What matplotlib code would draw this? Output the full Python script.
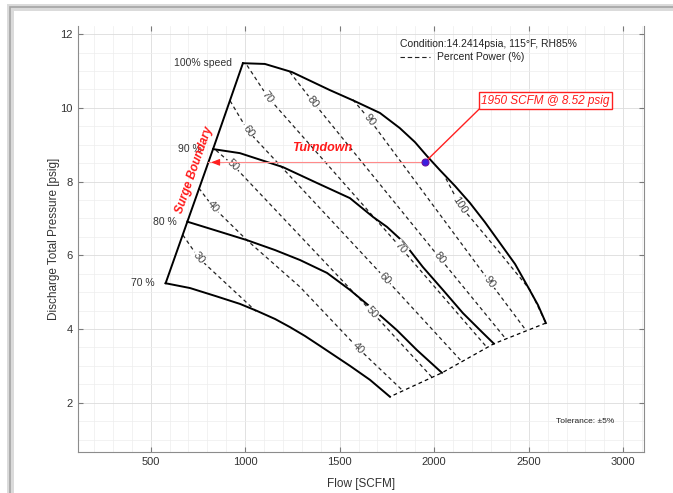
import matplotlib.pyplot as plt
from matplotlib.patches import Rectangle
from matplotlib.ticker import MultipleLocator
import numpy as np

plt.rcParams['font.family'] = ['Liberation Sans', 'DejaVu Sans']

# speed lines: flow [SCFM] vs discharge pressure [psig]
flow_100 = [988, 1104, 1247, 1448, 1580, 1713, 1818, 1898, 1962, 2030, 2110, 2189, 2268, 2348, 2428, 2496, 2549, 2591]
press_100 = [11.21, 11.19, 10.97, 10.48, 10.18, 9.86, 9.45, 9.07, 8.69, 8.31, 7.88, 7.42, 6.90, 6.33, 5.76, 5.14, 4.65, 4.16]
flow_90 = [830, 972, 1200, 1380, 1554, 1676, 1750, 1835, 1940, 2046, 2152, 2258, 2316]
press_90 = [8.88, 8.77, 8.39, 7.96, 7.55, 7.04, 6.77, 6.37, 5.68, 5.06, 4.43, 3.89, 3.60]
flow_80 = [694, 852, 1009, 1158, 1290, 1433, 1554, 1676, 1802, 1908, 2041]
press_80 = [6.91, 6.66, 6.41, 6.14, 5.87, 5.52, 5.06, 4.54, 3.97, 3.43, 2.81]
flow_70 = [579, 708, 845, 972, 1062, 1158, 1237, 1316, 1396, 1475, 1554, 1660, 1766]
press_70 = [5.24, 5.11, 4.89, 4.68, 4.49, 4.27, 4.05, 3.81, 3.54, 3.27, 3.00, 2.62, 2.16]
speed_names = ['100% speed', '90 %', '80 %', '70 %']

# percent power lines
power_levels = [30, 40, 50, 60, 70, 80, 90, 100]
power_flow = [
    [670, 755, 1057],
    [755, 830, 1009, 1290, 1597, 1835],
    [845, 935, 1671, 1988],
    [920, 1015, 1740, 2147],
    [1010, 1120, 1824, 2279],
    [1236, 1359, 2030, 2379],
    [1570, 1660, 2295, 2486],
    [2062, 2136, 2348, 2507, 2591],
]
power_press = [
    [6.55, 5.92, 4.48],
    [7.82, 7.31, 6.41, 5.14, 3.48, 2.32],
    [8.85, 8.45, 4.46, 2.69],
    [10.19, 9.37, 5.38, 3.11],
    [11.15, 10.29, 6.20, 3.50],
    [10.97, 10.16, 5.92, 3.73],
    [10.22, 9.67, 5.27, 3.96],
    [8.08, 7.36, 6.06, 5.06, 4.16],
]
power_label_flow = [[755], [830, 1597], [935, 1671], [1015, 1740], [1120, 1824],
                    [1359, 2030], [1660, 2295], [2136]]

# operating point
op_flow = 1950
op_press = 8.52

fig = plt.figure(figsize=(6.73, 4.93), dpi=100)
ax = fig.add_axes([0.1155, 0.0838, 0.8414, 0.8635])
ax.set_xlim(114, 3110)
ax.set_ylim(0.67, 12.22)

# window frame
fig.patches.append(Rectangle((10 / 673, -0.05), 1.2, 486 / 493 + 0.05, transform=fig.transFigure,
                             fill=False, edgecolor='#dadada', lw=5, zorder=0))
fig.patches.append(Rectangle((10 / 673, -0.05), 1.2, 486 / 493 + 0.05, transform=fig.transFigure,
                             fill=False, edgecolor='#a4a4a4', lw=1.2, zorder=0))

ax.xaxis.set_major_locator(MultipleLocator(500))
ax.xaxis.set_minor_locator(MultipleLocator(100))
ax.yaxis.set_major_locator(MultipleLocator(2))
ax.yaxis.set_minor_locator(MultipleLocator(0.5))
ax.grid(which='major', color='#dcdcdc', lw=0.6)
ax.grid(which='minor', color='#ededed', lw=0.5)
ax.set_axisbelow(True)
ax.tick_params(which='major', direction='in', length=3.5, color='#7a7a7a', width=0.8,
               labelsize=8, labelcolor='#333333', top=True, right=True)
ax.tick_params(which='minor', length=0)
for s in ['left', 'bottom', 'right']:
    ax.spines[s].set_color('#8c8c8c')
    ax.spines[s].set_linewidth(0.8)
ax.spines['top'].set_visible(False)

ax.set_ylabel('Discharge Total Pressure [psig]', fontsize=8.5, color='#333333')
ax.yaxis.set_label_coords(-0.031, 0.5)
ax.set_xlabel('Flow [SCFM]', fontsize=8.5, color='#333333')
ax.xaxis.set_label_coords(0.5, -0.061)

# speed lines, surge and choke boundaries
speed_flow = [flow_100, flow_90, flow_80, flow_70]
speed_press = [press_100, press_90, press_80, press_70]
for fl, pr in zip(speed_flow, speed_press):
    ax.plot(fl, pr, color='black', lw=1.4, zorder=3, solid_joinstyle='round')
surge_x = [fl[0] for fl in speed_flow]
surge_y = [pr[0] for pr in speed_press]
ax.plot(surge_x, surge_y, color='black', lw=1.4, zorder=3)
choke_x = [fl[-1] for fl in speed_flow]
choke_y = [pr[-1] for pr in speed_press]
ax.plot(choke_x, choke_y, color='black', lw=0.9, ls=(0, (3, 2.5)), zorder=3)

for name, fl, pr in zip(speed_names, speed_flow, speed_press):
    ax.text(fl[0] - 58, pr[0], name, ha='right', va='center', fontsize=7.5, color='#333333')

# percent power lines with inline labels
for lvl, fl, pr, lab in zip(power_levels, power_flow, power_press, power_label_flow):
    ax.plot(fl, pr, color='#222222', lw=0.9, ls=(0, (3, 2.5)), zorder=2)
    for f in lab:
        p = np.interp(f, fl, pr)
        a = ax.transData.transform((f - 30, np.interp(f - 30, fl, pr)))
        b = ax.transData.transform((f + 30, np.interp(f + 30, fl, pr)))
        ang = np.degrees(np.arctan2(b[1] - a[1], b[0] - a[0]))
        ax.text(f, p, str(lvl), rotation=ang, rotation_mode='anchor', ha='center', va='center',
                fontsize=8, color='#444444', zorder=4,
                bbox=dict(boxstyle='square,pad=0.1', fc='white', ec='none'))

# turndown arrow to the surge line
surge_flow_at_op = np.interp(op_press, surge_y[::-1], surge_x[::-1])
ax.plot([surge_flow_at_op, op_flow], [op_press, op_press], color='#ff8a8a', lw=0.8, zorder=4)
ax.annotate('', xy=(surge_flow_at_op, op_press), xytext=(surge_flow_at_op + 60, op_press),
            arrowprops=dict(arrowstyle='-|>,head_length=0.5,head_width=0.2', color='#ff2020', lw=0.8),
            zorder=5)
ax.text(1406, 8.91, 'Turndown', color='#ff1a1a', fontsize=9, fontweight='bold', fontstyle='italic',
        ha='center', va='center', zorder=5)

a = ax.transData.transform((surge_x[-1], surge_y[-1]))
b = ax.transData.transform((surge_x[0], surge_y[0]))
surge_ang = np.degrees(np.arctan2(b[1] - a[1], b[0] - a[0]))
ax.text(729, 8.31, 'Surge Boundary', color='#ff1a1a', fontsize=8.5, fontweight='bold', fontstyle='italic',
        rotation=surge_ang, rotation_mode='anchor', ha='center', va='center', zorder=5)

# operating point callout
ax.plot([op_flow, 2245], [op_press, 10.0], color='#ff2020', lw=1.0, zorder=5)
ax.plot(op_flow, op_press, 'o', ms=5, mfc='#3a1ee0', mec='#6a10a0', mew=0.8, zorder=6)
ax.text(2250, 10.03, f'{op_flow} SCFM @ {op_press} psig', color='#ff1a1a', fontsize=8.5,
        fontstyle='italic', ha='left', va='bottom', zorder=6,
        bbox=dict(boxstyle='square,pad=0.2', fc='white', ec='#ff2020', lw=1.0))

# condition notes
ax.text(1819, 11.73, 'Condition:14.2414psia, 115°F, RH85%', fontsize=7.5, color='#222222',
        ha='left', va='center')
ax.plot([1819, 1977], [11.38, 11.38], color='#222222', lw=0.8, ls=(0, (4, 2.5)))
ax.text(2015, 11.38, 'Percent Power (%)', fontsize=7.5, color='#222222', ha='left', va='center')
ax.text(2644, 1.50, 'Tolerance: ±5%', fontsize=6, color='#222222', ha='left', va='center')

fig.savefig('out.png', dpi=100)
